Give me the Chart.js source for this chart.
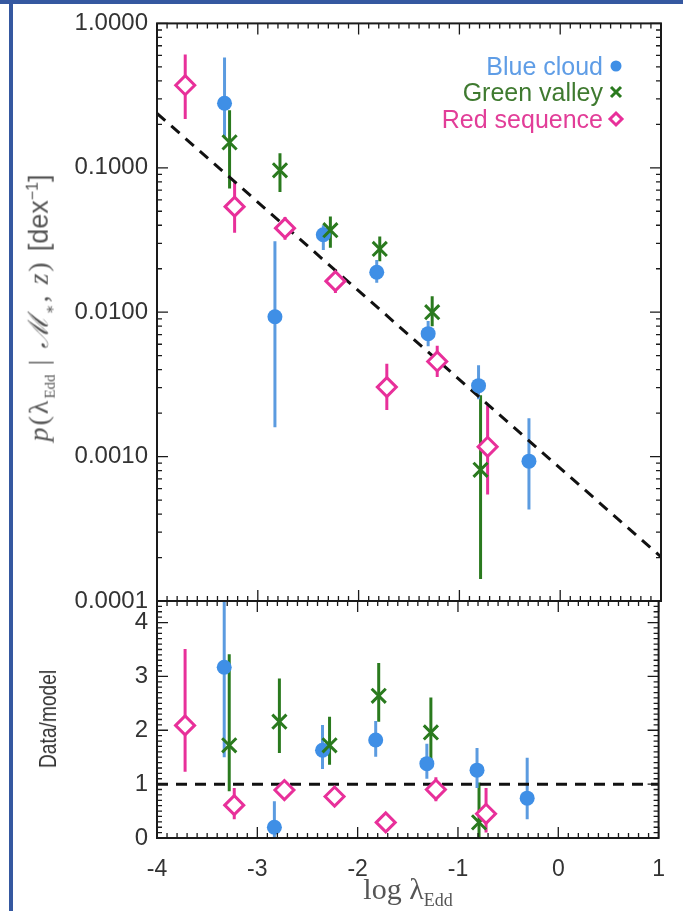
<!DOCTYPE html>
<html><head><meta charset="utf-8">
<script src="https://cdn.jsdelivr.net/npm/chart.js@4"></script>
<style>
html,body{margin:0;padding:0;background:#fff;}
#wrap{position:relative;width:683px;height:911px;overflow:hidden;background:#fff;}
#topbar{position:absolute;left:0;top:0;width:683px;height:4px;background:#3558a0;}
#leftbar{position:absolute;left:9px;top:0;width:4px;height:911px;background:#3558a0;}
canvas{position:absolute;left:0;top:0;}
.rot{position:absolute;transform:translate(-50%,-50%) rotate(-90deg);white-space:nowrap;}
.leg{position:absolute;right:80px;height:26px;line-height:26px;font-family:'Liberation Sans',Arial,sans-serif;font-size:25px;white-space:nowrap;}
svg.mk{position:absolute;left:0;top:0;}
</style>
</head><body>
<div id="wrap">
  <canvas id="c1" width="683" height="911"></canvas>
  <canvas id="c2" width="683" height="911"></canvas>
  <div id="topbar"></div><div id="leftbar"></div>
  <div class="rot" style="left:38px;top:308px;font-family:'Liberation Serif','DejaVu Serif',serif;font-size:28px;letter-spacing:2px;color:#555;"><i>p</i>(λ<sub style="font-size:15px;letter-spacing:0">Edd</sub> | <i>ℳ</i><sub style="font-size:15px">∗</sub>, <i>z</i>) <span style="font-family:'Liberation Sans',sans-serif;font-size:27px;letter-spacing:0">[dex<sup style="font-size:16px">−1</sup>]</span></div>
  <div class="rot" style="left:48px;top:719px;font-family:'Liberation Sans',sans-serif;font-size:24px;color:#333;transform:translate(-50%,-50%) rotate(-90deg) scaleX(0.8);">Data/model</div>
  <div style="position:absolute;left:408px;top:891px;transform:translate(-50%,-50%);white-space:nowrap;font-family:'Liberation Serif','DejaVu Serif',serif;font-size:30px;color:#555;">log λ<sub style="font-size:18px">Edd</sub></div>
  <div class="leg" style="top:53px;color:#5f9de6">Blue cloud</div>
  <div class="leg" style="top:79px;color:#3f7a30">Green valley</div>
  <div class="leg" style="top:106px;color:#e23d98">Red sequence</div>
  <svg class="mk" width="683" height="150">
    <circle cx="616" cy="66" r="5.5" fill="#3f8fe6"/>
    <path d="M611 87 L621 97 M621 87 L611 97" stroke="#2a7a1e" stroke-width="3"/>
    <path d="M616 113 L622 119 L616 125 L610 119 Z" stroke="#e8309a" stroke-width="3" fill="#fff"/>
  </svg>
</div>
<script>
// ---- tick labels ----
const xTickVals = [-4, -3, -2, -1, 0, 1];
const yTopTickVals = [1, 0.1, 0.01, 0.001, 0.0001];
const yBotTickVals = [0, 1, 2, 3, 4];

// ---- Blue cloud ----
const blueX   = [-3.33, -2.83, -2.35, -1.82, -1.31, -0.81, -0.31];
const blueP   = [0.28, 0.0093, 0.0344, 0.0189, 0.0071, 0.0031, 0.00093];
const blueLo  = [0.16, 0.0016, 0.027, 0.016, 0.0058, 0.0025, 0.00043];
const blueHi  = [0.58, 0.031, 0.040, 0.023, 0.0087, 0.0043, 0.00184];
const blueR   = [3.17, 0.20, 1.63, 1.82, 1.38, 1.26, 0.74];
const blueRLo = [1.5, -0.3, 1.28, 1.51, 1.10, 0.93, 0.35];
const blueRHi = [6.0, 0.68, 2.10, 2.17, 1.75, 1.67, 1.49];

// ---- Green valley ----
const greenX   = [-3.28, -2.78, -2.28, -1.79, -1.27, -0.79];
const greenP   = [0.15, 0.096, 0.037, 0.0274, 0.0100, 0.00081];
const greenLo  = [0.072, 0.068, 0.028, 0.0225, 0.0080, 0.000142];
const greenHi  = [0.25, 0.126, 0.046, 0.0335, 0.0129, 0.00266];
const greenR   = [1.72, 2.16, 1.72, 2.64, 1.96, 0.29];
const greenRLo = [0.87, 1.58, 1.36, 2.16, 1.32, -0.5];
const greenRHi = [3.41, 2.96, 2.25, 3.25, 2.61, 1.03];

// ---- Red sequence ----
const redX   = [-3.72, -3.23, -2.73, -2.23, -1.72, -1.22, -0.72];
const redP   = [0.373, 0.0538, 0.0382, 0.0164, 0.00303, 0.00456, 0.00117];
const redLo  = [0.218, 0.0355, 0.0318, 0.0136, 0.0021, 0.00356, 0.000546];
const redHi  = [0.61, 0.080, 0.0457, 0.0198, 0.0044, 0.00586, 0.00227];
const redR   = [2.09, 0.61, 0.89, 0.77, 0.29, 0.90, 0.45];
const redRLo = [1.23, 0.35, 0.80, 0.70, 0.22, 0.68, 0.10];
const redRHi = [3.51, 0.93, 0.98, 0.85, 0.36, 1.13, 0.93];

// ---- model ----
const modelX = [-4, 1];
const modelP = [0.238, 0.000202];
const unityR = [1, 1];

const C_BLUE = '#3f8fe6', C_BLUE_ERR = '#5b9be0';
const C_GREEN = '#2a7a1e';
const C_RED = '#e8309a';

function pts(xs, ys) { return xs.map((x, i) => ({x: x, y: ys[i]})); }

const errPlugin = {
  id: 'errbars',
  beforeDatasetsDraw(chart) {
    const {ctx, chartArea: a, scales} = chart;
    const xs = scales.x, ys = scales.y;
    ctx.save();
    ctx.beginPath(); ctx.rect(a.left, a.top, a.right - a.left, a.bottom - a.top); ctx.clip();
    chart.data.datasets.forEach(ds => {
      if (!ds.errLo) return;
      ctx.strokeStyle = ds.errColor; ctx.lineWidth = 3; ctx.lineCap = 'butt';
      ctx.beginPath();
      ds.data.forEach((p, j) => {
        const px = xs.getPixelForValue(p.x);
        const lo = ds.errLo[j], hi = ds.errHi[j];
        const y1 = (ys.type === 'logarithmic' && lo <= 0) ? a.bottom + 5 : ys.getPixelForValue(lo);
        const y2 = ys.getPixelForValue(hi);
        ctx.moveTo(px, y1); ctx.lineTo(px, y2);
      });
      ctx.stroke();
    });
    ctx.restore();
  }
};

const framePlugin = {
  id: 'frame',
  afterDatasetsDraw(chart, args, opts) {
    const {ctx, chartArea: a, scales} = chart;
    const xs = scales.x, ys = scales.y;
    ctx.save();
    ctx.strokeStyle = '#1a1a1a';
    ctx.lineWidth = 1.3;
    ctx.beginPath();
    for (let k = -40; k <= 10; k++) {
      const px = xs.getPixelForValue(k / 10);
      const len = (k % 10 === 0) ? 11 : 5;
      ctx.moveTo(px, a.top); ctx.lineTo(px, a.top + len);
      ctx.moveTo(px, a.bottom); ctx.lineTo(px, a.bottom - len);
    }
    if (opts.log) {
      for (let d = -4; d <= 0; d++) for (let m = 1; m <= 9; m++) {
        const v = m * Math.pow(10, d);
        if (v > 1.000001) continue;
        const py = ys.getPixelForValue(v);
        const len = m === 1 ? 11 : 5;
        ctx.moveTo(a.left, py); ctx.lineTo(a.left + len, py);
        ctx.moveTo(a.right, py); ctx.lineTo(a.right - len, py);
      }
    } else {
      for (let k = 0; k <= 44; k++) {
        const py = ys.getPixelForValue(k / 10);
        const len = k % 10 === 0 ? 11 : 5;
        ctx.moveTo(a.left, py); ctx.lineTo(a.left + len, py);
        ctx.moveTo(a.right, py); ctx.lineTo(a.right - len, py);
      }
    }
    ctx.stroke();
    ctx.lineWidth = 2;
    ctx.strokeRect(a.left, a.top, a.right - a.left, a.bottom - a.top);
    ctx.restore();
  }
};

function makeDatasets(top) {
  const ds = [];
  ds.push({label: 'Red sequence', type: 'scatter', order: 1,
    data: pts(redX, top ? redP : redR), errLo: top ? redLo : redRLo, errHi: top ? redHi : redRHi, errColor: C_RED,
    pointStyle: 'rectRot', pointRadius: 9.5, backgroundColor: '#ffffff', borderColor: C_RED, borderWidth: 3});
  ds.push({label: 'Green valley', type: 'scatter', order: 2,
    data: pts(greenX, top ? greenP : greenR), errLo: top ? greenLo : greenRLo, errHi: top ? greenHi : greenRHi, errColor: C_GREEN,
    pointStyle: 'crossRot', pointRadius: 10, borderColor: C_GREEN, backgroundColor: C_GREEN, borderWidth: 3});
  ds.push({label: 'Blue cloud', type: 'scatter', order: 3,
    data: pts(blueX, top ? blueP : blueR), errLo: top ? blueLo : blueRLo, errHi: top ? blueHi : blueRHi, errColor: C_BLUE_ERR,
    pointStyle: 'circle', pointRadius: 7.5, backgroundColor: C_BLUE, borderColor: C_BLUE, borderWidth: 0});
  ds.push({label: 'Model', type: 'line', order: 4,
    data: pts(modelX, top ? modelP : unityR), borderColor: '#111', borderWidth: 3, borderDash: [11, 8],
    pointRadius: 0, fill: false, tension: 0});
  return ds;
}

const tickFont = {family: "'Liberation Sans', Arial, sans-serif", size: 24};

new Chart(document.getElementById('c1'), {
  type: 'scatter',
  data: {datasets: makeDatasets(true)},
  options: {
    responsive: false, animation: false, devicePixelRatio: 1,
    layout: {padding: {left: 0, top: 23, right: 22, bottom: 310}},
    plugins: {legend: {display: false}, tooltip: {enabled: false}, frame: {log: true}},
    scales: {
      x: {type: 'linear', min: -4, max: 1, display: false},
      y: {type: 'logarithmic', min: 0.0001, max: 1, position: 'left',
        afterFit: s => { s.width = 157; },
        afterBuildTicks: s => { s.ticks = yTopTickVals.map(v => ({value: v})); },
        grid: {display: false, drawTicks: false}, border: {display: false},
        ticks: {font: tickFont, color: '#333', padding: 9, autoSkip: false, callback: v => Number(v).toFixed(4)}}
    }
  },
  plugins: [errPlugin, framePlugin]
});

new Chart(document.getElementById('c2'), {
  type: 'scatter',
  data: {datasets: makeDatasets(false)},
  options: {
    responsive: false, animation: false, devicePixelRatio: 1,
    layout: {padding: {left: 0, top: 601, right: 22, bottom: 0}},
    plugins: {legend: {display: false}, tooltip: {enabled: false}, frame: {log: false}},
    scales: {
      x: {type: 'linear', min: -4, max: 1, position: 'bottom',
        afterFit: s => { s.height = 73; },
        afterBuildTicks: s => { s.ticks = xTickVals.map(v => ({value: v})); },
        grid: {display: false, drawTicks: false}, border: {display: false},
        ticks: {font: {family: "'Liberation Sans', Arial, sans-serif", size: 23}, color: '#333', padding: 18, autoSkip: false, maxRotation: 0, callback: v => String(v)}},
      y: {type: 'linear', min: 0, max: 4.4, position: 'left',
        afterFit: s => { s.width = 157; },
        afterBuildTicks: s => { s.ticks = yBotTickVals.map(v => ({value: v})); },
        grid: {display: false, drawTicks: false}, border: {display: false},
        ticks: {font: tickFont, color: '#333', padding: 9, autoSkip: false, callback: v => String(v)}}
    }
  },
  plugins: [errPlugin, framePlugin]
});
</script>
</body></html>
